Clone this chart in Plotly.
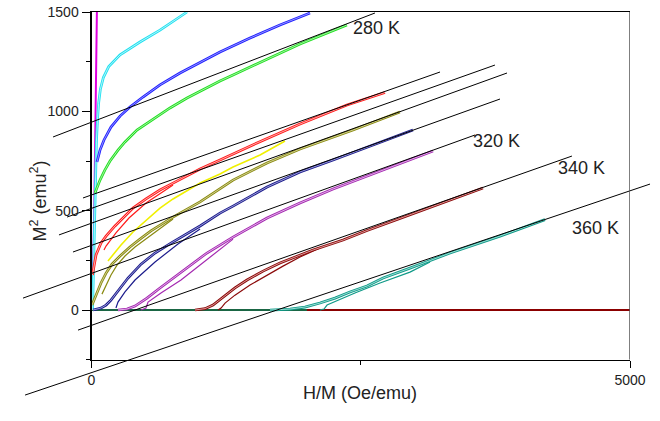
import plotly.graph_objects as go

# ---- Arrott plot data: H/M (Oe/emu) against M^2 (emu^2) ----
magenta_x = [3, 12, 20, 28, 35, 41, 46, 50]
magenta_y = [0, 150, 350, 600, 850, 1100, 1350, 1500]

cyan_x = [10, 22, 35, 46, 56, 66, 82, 110, 160, 265, 450, 636, 887]
cyan_y = [0, 300, 600, 850, 960, 1040, 1110, 1170, 1225, 1284, 1349, 1409, 1500]

blue_x = [51, 79, 116, 181, 265, 357, 478, 636, 822, 1008, 1193, 1472, 1750, 2029]
blue_y = [745, 805, 856, 921, 976, 1022, 1072, 1133, 1193, 1248, 1299, 1369, 1435, 1495]

green_x = [32, 79, 125, 172, 246, 311, 422, 543, 729, 887, 1008, 1193, 1314, 1630, 1936, 2372]
green_y = [589, 654, 705, 750, 805, 846, 906, 951, 1017, 1067, 1102, 1153, 1183, 1263, 1339, 1435]

red_x = [9, 42, 88, 135, 218, 311, 385, 506, 636, 757, 1008, 1193, 1537, 1936, 2372, 2725]
red_y = [176, 277, 337, 372, 423, 473, 513, 559, 604, 639, 710, 755, 841, 936, 1032, 1095]
red2_x = [116, 135, 227, 348, 506, 757]
red2_y = [302, 322, 388, 463, 539, 629]

yellow_x = [153, 274, 385, 506, 636, 757, 1008, 1193, 1314, 1565, 1797]
yellow_y = [247, 327, 393, 453, 513, 559, 639, 685, 720, 780, 851]

olive_x = [5, 42, 88, 135, 190, 265, 357, 450, 552, 757, 1008, 1314, 1630, 1936, 2428, 2864]
olive_y = [25, 75, 136, 186, 231, 272, 317, 357, 398, 468, 544, 654, 740, 810, 906, 997]
olive2_x = [97, 135, 181, 237, 311, 404, 543, 757]
olive2_y = [80, 126, 176, 226, 272, 317, 372, 458]

navy_x = [14, 88, 135, 181, 246, 339, 460, 590, 738, 896, 1008, 1193, 1314, 1630, 1936, 2243, 2558, 2985]
navy_y = [0, 10, 25, 50, 96, 161, 231, 287, 337, 388, 423, 488, 523, 619, 695, 755, 820, 906]
navy2_x = [227, 246, 311, 404, 590, 803, 1008]
navy2_y = [10, 40, 91, 151, 242, 332, 408]

purple_x = [246, 330, 404, 515, 636, 757, 942, 1072, 1193, 1314, 1630, 1936, 2243, 2558, 2864, 3171]
purple_y = [0, 5, 20, 60, 111, 161, 237, 287, 327, 367, 463, 539, 609, 674, 740, 800]
purple2_x = [460, 506, 525, 645, 831, 1008, 1193, 1314]
purple2_y = [0, 10, 40, 86, 151, 226, 307, 357]

darkred_x = [961, 1054, 1128, 1221, 1332, 1444, 1593, 1750, 2057, 2335, 2558, 2864, 3171, 3635]
darkred_y = [0, 7, 25, 65, 111, 151, 196, 237, 302, 352, 400, 461, 521, 614]
darkred2_x = [1175, 1203, 1240, 1332, 1472, 1611, 1778, 1936, 2121]
darkred2_y = [0, 10, 35, 75, 126, 171, 221, 267, 312]

teal_x = [1657, 1843, 1982, 2121, 2261, 2400, 2558, 2707, 2957, 3329, 3793, 4211]
teal_y = [0, 5, 15, 35, 60, 91, 121, 161, 211, 287, 372, 455]
teal2_x = [2121, 2159, 2187, 2307, 2446, 2679, 2957, 3143]
teal2_y = [0, 5, 25, 55, 86, 136, 191, 242]

# flat M^2 = 0 branches
flat_red_x = [0, 5000]
flat_red_y = [0, 0]
flat_green_x = [0, 2000]
flat_green_y = [0, 0]

# linear high-field fits (end points)
fit_lines = {
    "280 K": ([-357, 2632], [871, 1495]),
    "red": ([-79, 3236], [564, 1198]),
    "yellow": ([-227, 3746], [468, 1233]),
    "olive": ([-302, 3858], [378, 1193]),
    "navy": ([-172, 3793], [292, 1062]),
    "320 K": ([-636, 3561], [60, 881]),
    "340 K": ([-125, 4461], [-101, 775]),
    "360 K": ([-617, 5186], [-428, 634]),
}

temp_labels = ["280 K", "320 K", "340 K", "360 K"]
temp_label_x = [2642, 3765, 4545, 4684]
temp_label_y = [1419, 851, 715, 413]

x_ticks = [0, 5000]
x_minor = [2500]
y_ticks = [0, 500, 1000, 1500]
y_minor = [-250, 250, 750, 1250]
x_lim = [0, 5000]
y_lim = [-250, 1500]

# ---- geometry ----
W, H = 660, 421
frame_l, frame_r, frame_t, frame_b = 91.5, 630.0, 12.0, 359.7
sx = (x_lim[1] - x_lim[0]) / (frame_r - frame_l)
sy = (y_lim[1] - y_lim[0]) / (frame_b - frame_t)
full_x = [x_lim[0] - frame_l * sx, x_lim[1] + (W - frame_r) * sx]
full_y = [y_lim[0] - (H - frame_b) * sy, y_lim[1] + frame_t * sy]

FONT = "Liberation Sans, Arial, sans-serif"
TXT = "#222222"

fig = go.Figure()


def line(x, y, color, width=1.0):
    fig.add_trace(go.Scatter(x=x, y=y, mode="lines", hoverinfo="skip",
                             line=dict(color=color, width=width)))


def curve(x, y, color, inner):
    # two closely spaced branches: coloured edge with a pale core
    line(x, y, color, 2.7)
    line(x, y, inner, 0.9)


line(flat_red_x, flat_red_y, "#8b0000", 2)
line(flat_green_x, flat_green_y, "#1a6644", 2)

line(magenta_x, magenta_y, "#e000e0", 2)
curve(cyan_x, cyan_y, "#20e0f0", "#c0f7fb")
curve(blue_x, blue_y, "#1f1fff", "#a0a0ff")
curve(green_x, green_y, "#22e022", "#b0f2b0")
line(red2_x, red2_y, "#ff1a1a", 1.2)
curve(red_x, red_y, "#ff1a1a", "#ffbaba")
line(yellow_x, yellow_y, "#f0f000", 1.6)
line(olive2_x, olive2_y, "#8a8a10", 1.2)
curve(olive_x, olive_y, "#8a8a10", "#d8d8a4")
line(navy2_x, navy2_y, "#1c1c8c", 1.2)
curve(navy_x, navy_y, "#1c1c8c", "#aaaade")
line(purple2_x, purple2_y, "#a428b0", 1.2)
curve(purple_x, purple_y, "#a428b0", "#e8bcee")
line(darkred2_x, darkred2_y, "#8b0a0a", 1.2)
curve(darkred_x, darkred_y, "#8b0a0a", "#e4aaaa")
line(teal2_x, teal2_y, "#109a88", 1.2)
curve(teal_x, teal_y, "#109a88", "#aae4dc")

for fx, fy in fit_lines.values():
    line(fx, fy, "#000000", 1.0)

# empty trace so the framed axes pair is rendered
fig.add_trace(go.Scatter(x=[], y=[], xaxis="x2", yaxis="y2", showlegend=False))

for t, tx, ty in zip(temp_labels, temp_label_x, temp_label_y):
    fig.add_annotation(x=tx, y=ty, xref="x", yref="y", text=t, showarrow=False,
                       font=dict(family=FONT, size=18, color=TXT))

fig.add_annotation(x=360 / W, y=1 - 405 / H, xref="paper", yref="paper",
                   text="H/M (Oe/emu)", showarrow=False,
                   font=dict(family=FONT, size=18, color=TXT))
fig.add_annotation(x=25 / W, y=1 - 201 / H, xref="paper", yref="paper",
                   text="M<sup>2</sup> (emu<sup>2</sup>)", textangle=-90,
                   showarrow=False, font=dict(family=FONT, size=18, color=TXT))

# right border of the frame
fig.add_shape(type="line", xref="x2", yref="y2", x0=x_lim[1], x1=x_lim[1],
              y0=y_lim[0], y1=y_lim[1], line=dict(color="#555555", width=1.5))

fig.update_layout(
    width=W, height=H, autosize=False, showlegend=False,
    margin=dict(l=0, r=0, t=0, b=0, pad=0, autoexpand=False),
    paper_bgcolor="white", plot_bgcolor="rgba(0,0,0,0)",
    xaxis=dict(range=full_x, visible=False, domain=[0, 1], automargin=False),
    yaxis=dict(range=full_y, visible=False, domain=[0, 1], automargin=False),
    xaxis2=dict(range=x_lim, domain=[frame_l / W, frame_r / W], anchor="y2",
                automargin=False,
                showgrid=False, zeroline=False, showline=True, linecolor="black",
                linewidth=1, mirror=True, ticks="outside", ticklen=7, tickwidth=1,
                tickcolor="black", tickmode="array", tickvals=x_ticks,
                ticktext=[str(v) for v in x_ticks],
                minor=dict(tickmode="array", tickvals=x_minor, ticks="outside",
                           ticklen=4, tickcolor="black", showgrid=False),
                tickfont=dict(family=FONT, size=14, color=TXT)),
    yaxis2=dict(range=y_lim, domain=[1 - frame_b / H, 1 - frame_t / H], anchor="x2",
                automargin=False,
                showgrid=False, zeroline=False, showline=True, linecolor="black",
                linewidth=2, ticks="outside", ticklen=8, tickwidth=1,
                tickcolor="black", tickmode="array", tickvals=y_ticks,
                ticktext=[str(v) for v in y_ticks],
                minor=dict(tickmode="array", tickvals=y_minor, ticks="outside",
                           ticklen=4, tickcolor="black", showgrid=False),
                tickfont=dict(family=FONT, size=14, color=TXT)),
)

fig.write_html("out.html")
